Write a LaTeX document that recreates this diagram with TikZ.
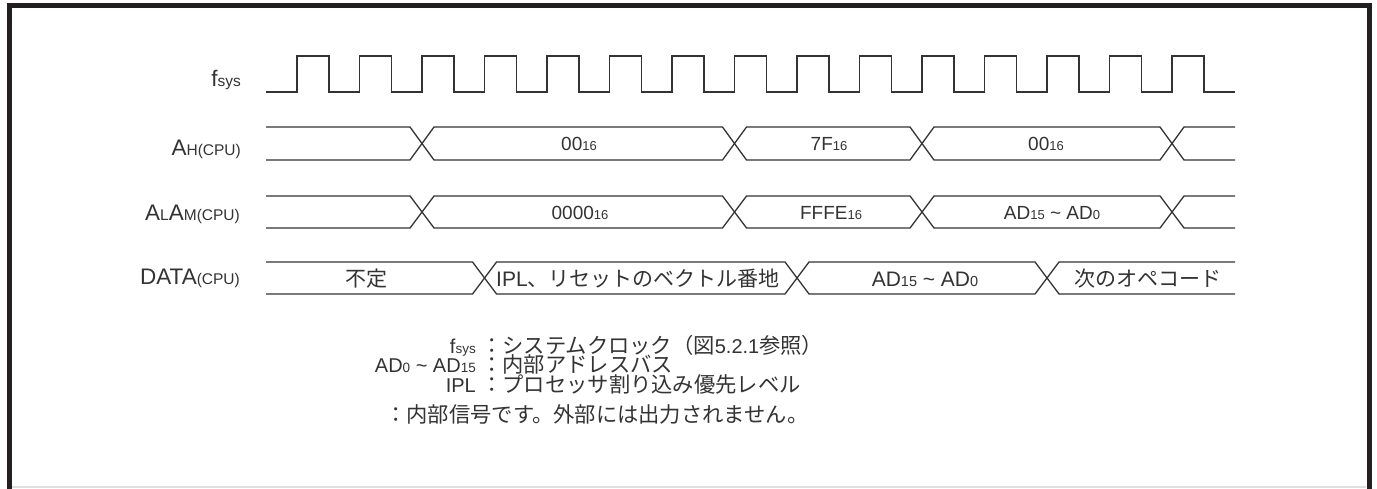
\documentclass[tikz,border=0pt]{standalone}
\usepackage{fontspec}
\setmainfont{Liberation Sans}
\newfontfamily\jp{Noto Sans CJK JP}
\definecolor{ink}{HTML}{333333}
\definecolor{framec}{HTML}{231F20}
\newcommand\fsz[2]{{\fontsize{#1}{#1}\selectfont #2}}
% label: big letter(s) + small part on same baseline
\newcommand\Lb[1]{\fsz{22.5}{#1}}
\newcommand\Ls[1]{\fsz{15.5}{#1}}
\newcommand\Vb[1]{\fsz{19}{#1}}
\newcommand\Vs[1]{\fsz{13}{#1}}
\newcommand\Db[1]{\fsz{21}{#1}}
\newcommand\Ds[1]{\fsz{14.5}{#1}}
\newcommand\Kb[1]{\fsz{20}{#1}}
\newcommand\Ks[1]{\fsz{13.5}{#1}}
\newcommand\Kj[1]{\fsz{21.3}{\jp #1}}
% bus hexagons
\newcommand\busseg[4]{\draw[sig] (#1,{(#3+#4)/2}) -- ({#1+12},#3) -- ({#2-12},#3) -- (#2,{(#3+#4)/2}) -- ({#2-12},#4) -- ({#1+12},#4) -- cycle;}
\newcommand\busfirst[4]{\draw[sig] (#1,#3) -- ({#2-12},#3) -- (#2,{(#3+#4)/2}) -- ({#2-12},#4) -- (#1,#4);}
\newcommand\buslast[4]{\draw[sig] (#2,#3) -- ({#1+12},#3) -- (#1,{(#3+#4)/2}) -- ({#1+12},#4) -- (#2,#4);}
\tikzset{
  sig/.style={draw=ink, line width=1.3pt, line join=miter},
  lbl/.style={anchor=base east, inner sep=0pt, text=ink},
  val/.style={anchor=base, inner sep=0pt, text=ink},
  key/.style={anchor=base west, inner sep=0pt, text=ink},
}
\begin{document}
\begin{tikzpicture}[x=1pt,y=-1pt]
\useasboundingbox (0,0) rectangle (1377,488);
\fill[white] (0,0) rectangle (1377,488);
% frame
\draw[framec, line width=5pt, line join=miter] (9.5,490) -- (9.5,5.5) -- (1369,5.5) -- (1369,490);
\draw[black!12, line width=1.5pt] (12,487) -- (1366,487);

% signal labels
\node[lbl] (lfsys) at (241,86) {\Lb{f}\Ls{sys}};
\node[lbl] (lah) at (241,155) {\Lb{A}\Ls{H(CPU)}};
\node[lbl] (lalam) at (240,220) {\Lb{A}\Ls{L}\Lb{A}\Ls{M(CPU)}};
\node[lbl] (ldata) at (240,284) {\Lb{DATA}\Ls{(CPU)}};

% clock
\draw[sig] (266,92) foreach \k in {0,...,14} { -- ({297+62.5*\k},92) -- ({297+62.5*\k},56) -- ({329+62.5*\k},56) -- ({329+62.5*\k},92) } -- (1235,92);

% A_H bus
\busfirst{266}{422}{127}{160}
\busseg{422}{734.5}{127}{160}
\busseg{734.5}{922}{127}{160}
\busseg{922}{1172}{127}{160}
\buslast{1172}{1235}{127}{160}
\node[val] (ah1) at (579,150.5) {\Vb{00}\Vs{16}};
\node[val] (ah2) at (829,150.5) {\Vb{7F}\Vs{16}};
\node[val] (ah3) at (1046,150.5) {\Vb{00}\Vs{16}};

% A_L A_M bus
\busfirst{266}{422}{196}{228}
\busseg{422}{734.5}{196}{228}
\busseg{734.5}{922}{196}{228}
\busseg{922}{1172}{196}{228}
\buslast{1172}{1235}{196}{228}
\node[val] (al1) at (580,219) {\Vb{0000}\Vs{16}};
\node[val] (al2) at (831,219) {\Vb{FFFE}\Vs{16}};
\node[val] (al3) at (1052,219) {\Vb{AD}\Vs{15}\Vb{ \textasciitilde{} AD}\Vs{0}};

% DATA bus
\busfirst{266}{484.5}{262}{294}
\busseg{484.5}{797}{262}{294}
\busseg{797}{1047}{262}{294}
\buslast{1047}{1235}{262}{294}
\node[val] (d1) at (366,286) {\Db{\jp 不定}};
\node[val] (d2) at (638,286) {\Db{IPL}\Db{\jp 、リセットのベクトル番地}};
\node[val] (d3) at (925,286) {\Db{AD}\Ds{15}\Db{ \textasciitilde{} AD}\Ds{0}};
\node[val] (d4) at (1148,286) {\Db{\jp 次のオペコード}};

% legend
\node[lbl] (k1) at (476,353) {\Kb{f}\Ks{sys}};
\node[key] (t1) at (481,353) {\Kj{：システムクロック（図}\Kb{5.2.1}\Kj{参照）}};
\node[lbl] (k2) at (476,372.5) {\Kb{AD}\Ks{0}\Kb{ \textasciitilde{} AD}\Ks{15}};
\node[key] (t2) at (481,372.5) {\Kj{：内部アドレスバス}};
\node[lbl] (k3) at (476,392) {\Kb{IPL}};
\node[key] (t3) at (481,392) {\Kj{：プロセッサ割り込み優先レベル}};
\node[key] (note) at (385,422) {\Kj{：内部信号です。外部には出力されません。}};
\end{tikzpicture}
\end{document}
